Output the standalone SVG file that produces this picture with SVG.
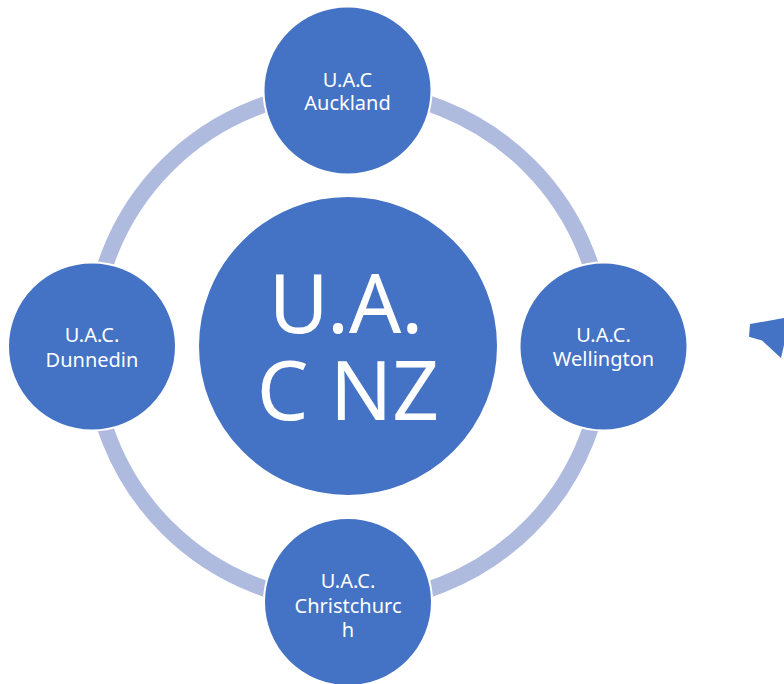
<svg xmlns="http://www.w3.org/2000/svg" width="784" height="684" viewBox="0 0 784 684">
<style>
.node{fill:#4472C4;stroke:#FFFFFF;stroke-width:2}
.lbl{fill:#FFFFFF;font-family:"Noto Sans","DejaVu Sans",sans-serif;font-size:20px;text-anchor:middle}
.big{fill:#FFFFFF;font-family:"Noto Sans","DejaVu Sans",sans-serif;font-size:82px;text-anchor:middle}
</style>
<rect width="784" height="684" fill="#FFFFFF"/>
<g id="connectors">
<circle cx="348" cy="346.5" r="256" fill="none" stroke="#AFBADF" stroke-width="16"/>
<polygon points="750,324 784,318 784,345 781,358 762,340.5 749,336.7" fill="#4472C4"/>
</g>
<g id="center">
<circle class="node" cx="348" cy="346" r="150"/>
<text class="big" x="346" y="333">U.A.</text>
<text class="big" x="348" y="420">C NZ</text>
</g>
<g id="auckland">
<circle class="node" cx="347.5" cy="90.5" r="84"/>
<text class="lbl" x="347.5" y="87">U.A.C</text>
<text class="lbl" x="347.5" y="110">Auckland</text>
</g>
<g id="wellington">
<circle class="node" cx="603.5" cy="346.5" r="84"/>
<text class="lbl" x="603.5" y="342">U.A.C.</text>
<text class="lbl" x="603.5" y="366">Wellington</text>
</g>
<g id="christchurch">
<circle class="node" cx="348" cy="602" r="84"/>
<text class="lbl" x="348" y="588">U.A.C.</text>
<text class="lbl" x="348" y="613">Christchurc</text>
<text class="lbl" x="348" y="637">h</text>
</g>
<g id="dunnedin">
<circle class="node" cx="92" cy="346.5" r="84"/>
<text class="lbl" x="92" y="342">U.A.C.</text>
<text class="lbl" x="92" y="367">Dunnedin</text>
</g>
</svg>
